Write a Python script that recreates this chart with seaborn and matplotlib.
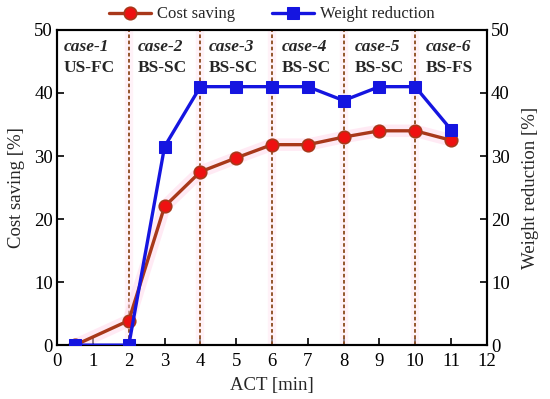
import seaborn as sns
import matplotlib.pyplot as plt
import pandas as pd

# data
act = [0.5, 2, 3, 4, 5, 6, 7, 8, 9, 10, 11]
cost_saving = [0, 3.9, 22, 27.5, 29.7, 31.8, 31.8, 33, 34, 34, 32.5]
weight_reduction = [0, 0, 31.5, 41, 41, 41, 41, 38.8, 41, 41, 34.2]

case_bounds = [2, 4, 6, 8, 10]
case_x = [0.17, 2.25, 4.22, 6.28, 8.3, 10.3]
case_names = ["case-1", "case-2", "case-3", "case-4", "case-5", "case-6"]
case_types = ["US-FC", "BS-SC", "BS-SC", "BS-SC", "BS-SC", "BS-FS"]

df = pd.DataFrame({"ACT": act, "Cost": cost_saving, "Weight": weight_reduction})

sns.set_style("ticks")
plt.rcParams["font.family"] = ["Liberation Serif", "DejaVu Serif"]
plt.rcParams["font.size"] = 12

fig, ax1 = plt.subplots(figsize=(5.5, 3.99), dpi=100)
fig.subplots_adjust(left=0.104, right=0.885, top=0.925, bottom=0.135)
ax2 = ax1.twinx()

# case separators
for xb in case_bounds:
    ax1.axvline(xb, color="#ffe6f2", lw=6, alpha=0.5, zorder=1)
    ax1.axvline(xb, color="#8b4a1c", lw=1.3, ls=(0, (2, 1.4)), zorder=2)

for xt, nm, tp in zip(case_x, case_names, case_types):
    ax1.text(xt, 47.3, nm, fontsize=12.5, fontweight="bold", fontstyle="italic",
             ha="left", va="center")
    ax1.text(xt, 44.0, tp, fontsize=12.5, fontweight="bold", ha="left", va="center")

# soft halo behind cost curve
sns.lineplot(data=df, x="ACT", y="Cost", ax=ax1, color="#ffd6ea", lw=9,
             alpha=0.5, zorder=2, legend=False)
sns.lineplot(data=df, x="ACT", y="Cost", ax=ax1, color="#a8381a", lw=2.4,
             marker="o", markersize=9, markerfacecolor="#ee1111",
             markeredgecolor="#a8381a", markeredgewidth=1.2, zorder=3,
             label="Cost saving", legend=False)
sns.lineplot(data=df, x="ACT", y="Weight", ax=ax2, color="#1515e0", lw=2.4,
             marker="s", markersize=8, markerfacecolor="#1515e0",
             markeredgecolor="#1515e0", zorder=3,
             label="Weight reduction", legend=False)

for ax in (ax1, ax2):
    ax.set_ylim(0, 50)
    ax.set_yticks(range(0, 51, 10))
    ax.tick_params(direction="in", length=5, width=1.2, labelsize=13.5,
                   colors="black", pad=3)
    for sp in ax.spines.values():
        sp.set_linewidth(1.5)
        sp.set_color("black")
ax1.tick_params(axis="x", pad=6)

ax1.set_xlim(0, 12)
ax1.set_xticks(range(0, 13))
ax1.set_xlabel("ACT [min]", fontsize=13.5, labelpad=5)
ax1.set_ylabel("Cost saving [%]", fontsize=13.5, labelpad=7)
ax2.set_ylabel("Weight reduction [%]", fontsize=13.5, labelpad=9)

h1, l1 = ax1.get_legend_handles_labels()
h2, l2 = ax2.get_legend_handles_labels()
ax1.legend(h1 + h2, l1 + l2, ncol=2, frameon=False, loc="lower center",
           bbox_to_anchor=(0.5, 1.0), fontsize=12, handlelength=2.5,
           columnspacing=2.2, borderaxespad=0.05, handletextpad=0.4)

plt.savefig("out.png", dpi=100)
